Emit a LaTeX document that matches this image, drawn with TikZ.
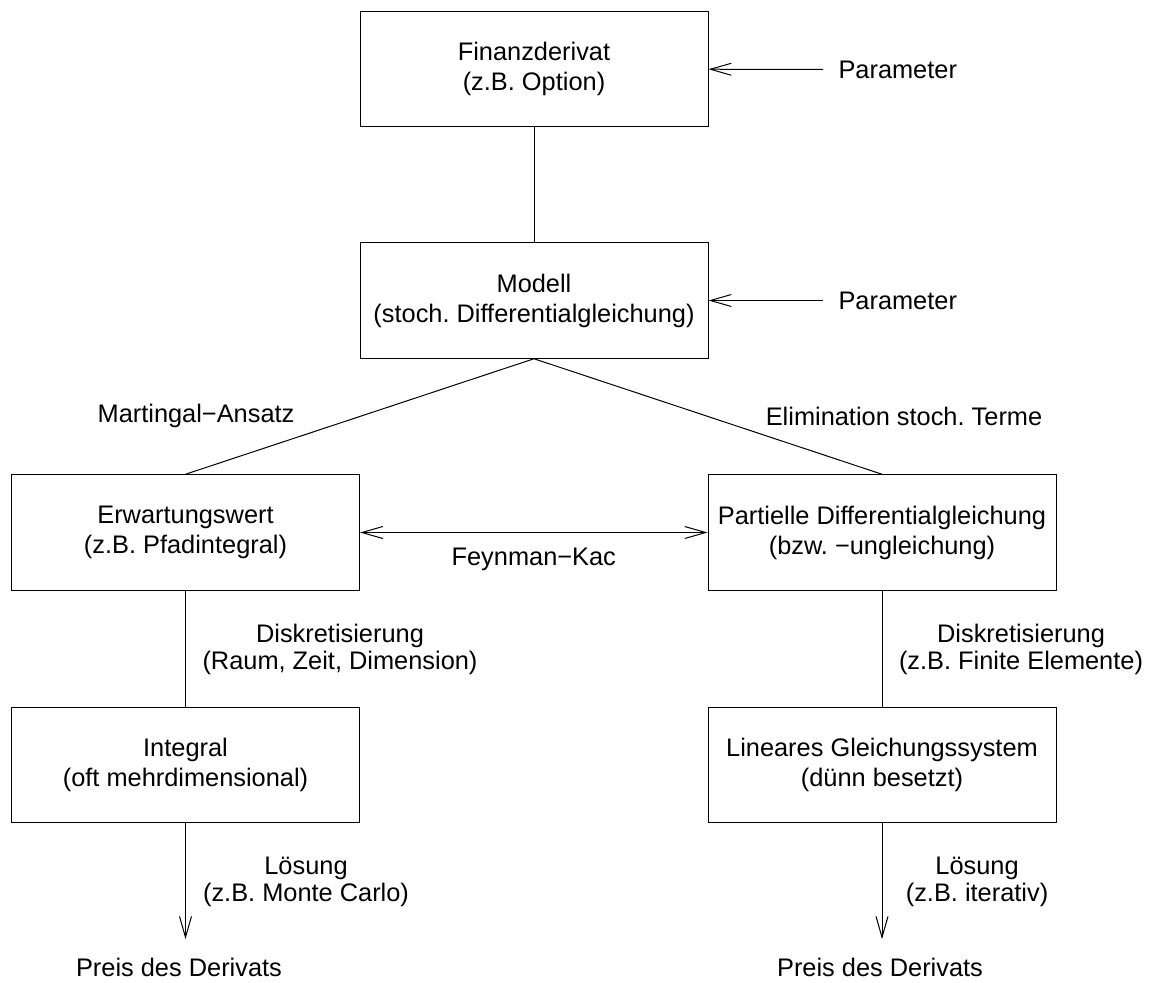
\documentclass[tikz,border=0pt]{standalone}
\usepackage{fontspec}
\setmainfont{Liberation Sans}
\usetikzlibrary{arrows.meta}
\frenchspacing
\begin{document}
\begin{tikzpicture}[x=40pt,y=-40pt,
	every node/.style={font=\fontsize{10.15}{10.8}\selectfont,inner sep=0pt,align=center},
	kasten/.style={draw,thin,minimum width=139.2pt,minimum height=46.2pt,font=\fontsize{10.15}{12}\selectfont},
	pfeil/.style={thin,-{Straight Barb[length=8.4pt,width=4.8pt]}},
	dpfeil/.style={thin,{Straight Barb[length=8.4pt,width=4.8pt]}-{Straight Barb[length=8.4pt,width=4.8pt]}}]
	\useasboundingbox (0,0) rectangle (11.55,9.82);
	% Kaesten
	\node(fd) [kasten] at (5.34,0.69) {Finanzderivat\\ (z.B. Option)};
	\node(mod) [kasten] at (5.34,3.005) {Modell\\ (stoch. Differentialgleichung)};
	\node(ew) [kasten] at (1.855,5.325) {Erwartungswert\\ (z.B. Pfadintegral)};
	\node(pdg) [kasten] at (8.82,5.325) {Partielle Differentialgleichung\\ (bzw. −ungleichung)};
	\node(int) [kasten] at (1.855,7.65) {Integral\\ (oft mehrdimensional)};
	\node(lgs) [kasten] at (8.82,7.65) {Lineares Gleichungssystem\\ (dünn besetzt)};
	% Parameter
	\node(par1) [anchor=west,inner xsep=6pt] at (8.23,0.695) {Parameter};
	\node(par2) [anchor=west,inner xsep=6pt] at (8.23,3.005) {Parameter};
	\draw [pfeil] (par1) -- (fd);
	\draw [pfeil] (par2) -- (mod);
	% Verbindungen
	\draw [thin] (fd) -- (mod);
	\draw [thin] (mod.south) -- (ew.north);
	\draw [thin] (mod.south) -- (pdg.north);
	\node(ma) at (1.96,4.16) {Martingal−Ansatz};
	\node(el) at (9.04,4.16) {Elimination stoch. Terme};
	\draw [dpfeil] (ew) -- (pdg) node [midway,below=6pt] (fk) {Feynman−Kac};
	\draw [thin] (ew) -- (int);
	\draw [thin] (pdg) -- (lgs);
	\node(dk1) at (3.40,6.49) {Diskretisierung\\ (Raum, Zeit, Dimension)};
	\node(dk2) at (10.21,6.49) {Diskretisierung\\ (z.B. Finite Elemente)};
	% Loesung
	\node(pr1) at (1.79,9.67) {Preis des Derivats};
	\node(pr2) at (8.80,9.67) {Preis des Derivats};
	\draw [pfeil,shorten >=7.2pt] (int) -- (int |- pr1.north);
	\draw [pfeil,shorten >=7.2pt] (lgs) -- (lgs |- pr2.north);
	\node(ls1) at (3.06,8.82) {Lösung\\ (z.B. Monte Carlo)};
	\node(ls2) at (9.77,8.82) {Lösung\\ (z.B. iterativ)};
\end{tikzpicture}
\end{document}
